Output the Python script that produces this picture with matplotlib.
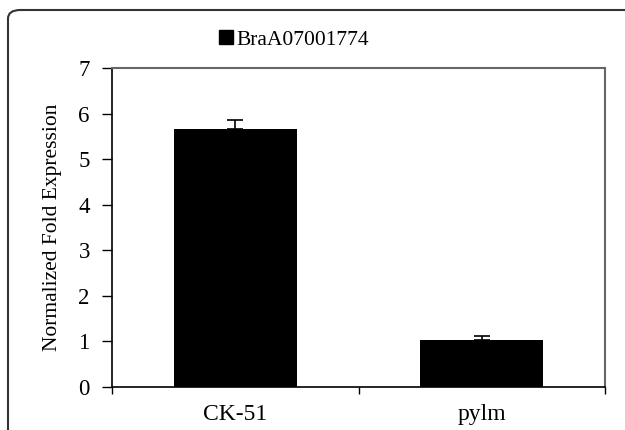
import matplotlib
matplotlib.use("Agg")
import matplotlib.pyplot as plt
import matplotlib.patches as mpatches

categories = ["CK-51", "pylm"]
values = [5.66, 1.04]
errors = [0.19, 0.09]
series_name = "BraA07001774"
y_ticks = [0, 1, 2, 3, 4, 5, 6, 7]

plt.rcParams["font.family"] = ["Liberation Serif", "DejaVu Serif"]

fig = plt.figure(figsize=(6.25, 4.3), dpi=100)
ax = fig.add_axes([0.1792, 0.1, 0.7888, 0.7419])

x = list(range(len(categories)))
ax.bar(x, values, width=0.5, color="black", label=series_name, zorder=2)
ax.errorbar(x, values, yerr=[[0] * len(errors), errors], fmt="none",
            ecolor="black", elinewidth=1.2, capsize=6, capthick=1.2, zorder=3)

ax.set_xlim(-0.5, len(categories) - 0.5)
ax.set_ylim(0, 7)
ax.set_yticks(y_ticks)
ax.tick_params(axis="y", labelsize=16.5, direction="out", length=7, width=1, pad=9)

# category boundary ticks (Excel style), labels centered on bars
ax.set_xticks([i - 0.5 for i in range(len(categories) + 1)])
ax.set_xticklabels([])
ax.tick_params(axis="x", which="major", direction="out", length=5, width=1)
ax.set_xticks(x, minor=True)
ax.set_xticklabels(categories, minor=True)
ax.tick_params(axis="x", which="minor", length=0, labelsize=17, pad=12)

ax.set_ylabel("Normalized Fold Expression", fontsize=15.5, labelpad=12)

for side in ["left", "bottom"]:
    ax.spines[side].set_color("black")
    ax.spines[side].set_linewidth(1.2)
for side in ["top", "right"]:
    ax.spines[side].set_color("#666666")
    ax.spines[side].set_linewidth(1.5)

handle = mpatches.Patch(facecolor="black", edgecolor="black")
fig.legend([handle], [series_name], loc="center", bbox_to_anchor=(0.47, 0.907),
           frameon=False, fontsize=15.5, handlelength=0.65, handleheight=0.65,
           handletextpad=0.15, borderpad=0)

# outer rounded border of the figure panel
border = mpatches.FancyBboxPatch((8 / 625, -0.2), 1.2, 1.2 - 10 / 430,
                                 boxstyle="round,pad=0,rounding_size=0.02",
                                 transform=fig.transFigure, fill=False,
                                 edgecolor="#333333", linewidth=1.5)
fig.patches.append(border)

fig.savefig("out.png", dpi=100)
